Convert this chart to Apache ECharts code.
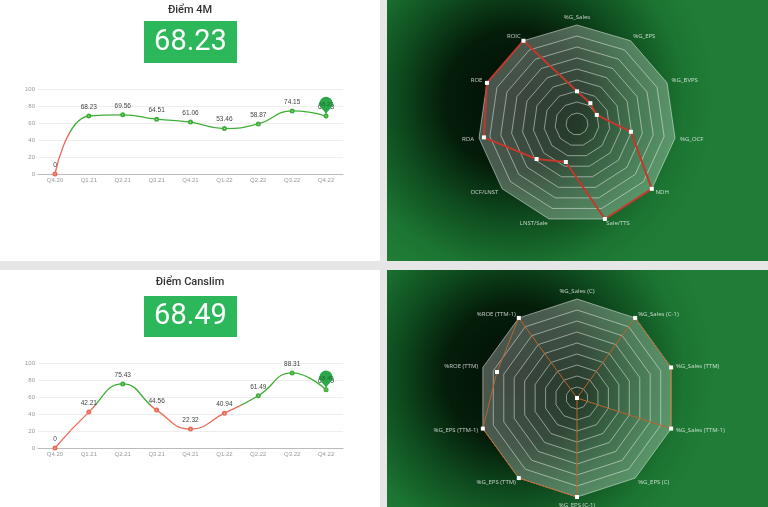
<!DOCTYPE html>
<html><head><meta charset="utf-8">
<script src="https://cdn.jsdelivr.net/npm/echarts@6/dist/echarts.min.js"></script>
<style>html,body{margin:0;padding:0;background:#e6e6e6;overflow:hidden}#c{width:768px;height:507px}</style>
</head><body><div id="c"></div>
<script>
// ---- data ----
const quarters = ['Q4.20','Q1.21','Q2.21','Q3.21','Q4.21','Q1.22','Q2.22','Q3.22','Q4.22'];
const score4M = [0, 68.23, 69.56, 64.51, 61.06, 53.46, 58.87, 74.15, 68.23];
const scoreCanslim = [0, 42.21, 75.43, 44.56, 22.32, 40.94, 61.49, 88.31, 68.49];
const current4M = '68.23';
const currentCanslim = '68.49';
const yTicks = [0, 20, 40, 60, 80, 100];
// radar indicators listed in ECharts drawing order (counter-clockwise from top)
const radar4MNames = ['%G_Sales','ROIC','ROE','ROA','OCF/LNST','LNST/Sale','Sale/TTS','NDH','%G_OCF','%G_BVPS','%G_EPS'];
const radar4MValues = [33, 100, 100, 95, 54, 40, 100, 100, 55, 22, 25];
const radarCanslimNames = ['%G_Sales (C)','%ROE (TTM-1)','%ROE (TTM)','%G_EPS (TTM-1)','%G_EPS (TTM)','%G_EPS (C-1)','%G_EPS (C)','%G_Sales (TTM-1)','%G_Sales (TTM)','%G_Sales (C-1)'];
const radarCanslimValues = [0, 100, 85, 100, 100, 100, 0, 100, 100, 100];

const GREEN = '#3fae37', RED = '#ec6a57';
const chart = echarts.init(document.getElementById('c'));

function grid(top){ return {left:38, width:305, top:top, height:85}; }
function xAxis(i){ return {gridIndex:i, type:'category', data:quarters, boundaryGap:true,
  axisLine:{lineStyle:{color:'#bbb'}}, axisTick:{lineStyle:{color:'#bbb'}, length:3},
  axisLabel:{fontSize:6, color:'#999', margin:3, fontFamily:'Liberation Sans'}}; }
function yAxis(i){ return {gridIndex:i, type:'value', min:yTicks[0], max:yTicks[yTicks.length-1], interval:yTicks[1]-yTicks[0],
  axisLine:{show:false}, axisTick:{show:false},
  splitLine:{lineStyle:{color:'#eee', width:1}},
  axisLabel:{fontSize:6, color:'#999', margin:3, fontFamily:'Liberation Sans'}}; }
function lineSeries(i, data){
  const last = data[data.length-1];
  return {type:'line', xAxisIndex:i, yAxisIndex:i, data:data, smooth:true,
    symbol:'emptyCircle', symbolSize:3, lineStyle:{width:1.3},
    label:{show:true, position:'top', distance:3, fontSize:6.5, color:'#444', fontFamily:'Liberation Sans'},
    markPoint:{symbol:'pin', symbolSize:22, itemStyle:{color:'#2aa84a'},
      label:{fontSize:6, color:'#1b6e2e', fontFamily:'Liberation Sans'},
      data:[{xAxis:data.length-1, yAxis:last, value:last}]}};
}
function radar(cy, names){
  const n = 9, areas = [];
  for (let k=0;k<n;k++) areas.push('rgba(255,255,255,' + (0.13 + 0.15*k/(n-1)).toFixed(3) + ')');
  return {center:[577, cy], radius:99, startAngle:90, splitNumber:n, shape:'polygon',
    indicator:names.map(nm=>({name:nm, max:100})),
    nameGap:5,
    axisName:{color:'rgba(255,255,255,0.75)', fontSize:6, fontFamily:'Open Sans'},
    splitLine:{lineStyle:{color:'rgba(255,255,255,0.6)', width:0.8}},
    splitArea:{show:true, areaStyle:{color:areas}},
    axisLine:{show:false}, axisTick:{show:false}};
}
function bg(x,y,w,h,cx,cy){
  return {type:'rect', silent:true, z:-10, shape:{x:x,y:y,width:w,height:h},
    style:{fill:new echarts.graphic.RadialGradient(cx, cy, 200, [
      {offset:0, color:'#020f05'}, {offset:0.35, color:'#041d0a'},
      {offset:0.6, color:'#0f4d1f'}, {offset:0.85, color:'#1c7532'}, {offset:1, color:'#1f7d37'}], true)}};
}
function txt(t,x,y,font,fill){
  return {type:'text', z:20, silent:true, style:{text:t, x:x, y:y, font:font, fill:fill,
    align:'center', verticalAlign:'middle', textAlign:'center', textVerticalAlign:'middle'}};
}
const pieces = [{gte:-1, lt:50, color:RED},{gte:50, lte:101, color:GREEN}];

chart.setOption({
  backgroundColor:'#e6e6e6',
  animation:false,
  graphic:[
    {type:'rect', silent:true, z:-10, shape:{x:0,y:0,width:380,height:261}, style:{fill:'#fff'}},
    {type:'rect', silent:true, z:-10, shape:{x:0,y:270,width:380,height:237}, style:{fill:'#fff'}},
    bg(387,0,381,261,515,100),
    bg(387,270,381,237,515,375),
    txt('Điểm 4M',190,10,'500 11px Roboto','#333'),
    {type:'rect', silent:true, z:19, shape:{x:144,y:21,width:93,height:42}, style:{fill:'#2cb85a'}},
    txt(current4M,190.5,42.5,'29px Roboto','#fff'),
    txt('Điểm Canslim',190,282,'500 11px Roboto','#333'),
    {type:'rect', silent:true, z:19, shape:{x:144,y:296,width:93,height:41}, style:{fill:'#2cb85a'}},
    txt(currentCanslim,190.5,317,'29px Roboto','#fff')
  ],
  grid:[grid(89), grid(363)],
  xAxis:[xAxis(0), xAxis(1)],
  yAxis:[yAxis(0), yAxis(1)],
  visualMap:[
    {show:false, type:'piecewise', seriesIndex:0, dimension:1, pieces:pieces},
    {show:false, type:'piecewise', seriesIndex:1, dimension:1, pieces:pieces}
  ],
  radar:[radar(124, radar4MNames), radar(398, radarCanslimNames)],
  series:[
    lineSeries(0, score4M),
    lineSeries(1, scoreCanslim),
    {type:'radar', radarIndex:0, symbol:'rect', symbolSize:4,
      itemStyle:{color:'#fff'}, lineStyle:{color:'#c0392b', width:2},
      data:[{value:radar4MValues, name:'4M'}]},
    {type:'radar', radarIndex:1, symbol:'rect', symbolSize:4,
      itemStyle:{color:'#fff'}, lineStyle:{color:'#b9662b', width:1},
      data:[{value:radarCanslimValues, name:'Canslim'}]}
  ]
});
</script></body></html>
